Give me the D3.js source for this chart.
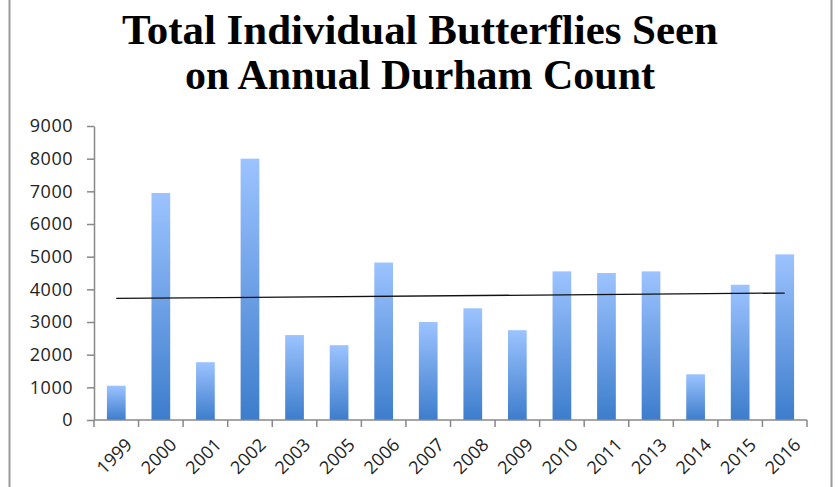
<!DOCTYPE html>
<html>
<head>
<meta charset="utf-8">
<script src="https://cdn.jsdelivr.net/npm/d3@7"></script>
<style>
  html, body { margin: 0; padding: 0; background: #fff; }
  svg { display: block; }
</style>
</head>
<body>
<div id="chart"></div>
<script>
const years = ["1999", "2000", "2001", "2002", "2003", "2005", "2006", "2007",
               "2008", "2009", "2010", "2011", "2013", "2014", "2015", "2016"];
const counts = [1050, 6950, 1770, 8000, 2600, 2290, 4820, 3000,
                3420, 2750, 4550, 4500, 4550, 1400, 4140, 5070];
const yTicks = [0, 1000, 2000, 3000, 4000, 5000, 6000, 7000, 8000, 9000];
const titleLines = ["Total Individual Butterflies Seen", "on Annual Durham Count"];

const width = 838, height = 487;
const margin = { top: 126, right: 31, bottom: 67, left: 94 };

const svg = d3.select("#chart").append("svg")
    .attr("width", width)
    .attr("height", height);

// frame lines left and right
svg.append("line").attr("x1", 9.5).attr("x2", 9.5).attr("y1", 0).attr("y2", height)
    .attr("stroke", "#999").attr("stroke-width", 2);
svg.append("line").attr("x1", 831.5).attr("x2", 831.5).attr("y1", 0).attr("y2", height)
    .attr("stroke", "#999").attr("stroke-width", 2);

// title
svg.append("g").selectAll("text")
    .data(titleLines)
    .join("text")
    .attr("x", 420)
    .attr("y", (d, i) => 44 + i * 45)
    .attr("text-anchor", "middle")
    .attr("textLength", (d, i) => i === 0 ? 596 : 470)
    .attr("lengthAdjust", "spacingAndGlyphs")
    .style("font-family", "'Liberation Serif', serif")
    .style("font-weight", "bold")
    .style("font-size", "42px")
    .style("fill", "#000")
    .text(d => d);

const x = d3.scaleBand()
    .domain(years)
    .range([margin.left, width - margin.right])
    .paddingInner(0.58)
    .paddingOuter(0.29);

const y = d3.scaleLinear()
    .domain([0, 9000])
    .range([height - margin.bottom, margin.top]);

const defs = svg.append("defs");
const grad = defs.append("linearGradient")
    .attr("id", "barGrad")
    .attr("x1", 0).attr("y1", 0).attr("x2", 0).attr("y2", 1);
grad.append("stop").attr("offset", "0%").attr("stop-color", "#9cc3ff");
grad.append("stop").attr("offset", "100%").attr("stop-color", "#3d7dcc");

// bars
svg.append("g").selectAll("rect")
    .data(counts)
    .join("rect")
    .attr("x", (d, i) => x(years[i]))
    .attr("y", d => y(d))
    .attr("width", x.bandwidth())
    .attr("height", d => y(0) - y(d))
    .attr("fill", "url(#barGrad)");

// linear trendline from least squares
const n = counts.length;
const xs = d3.range(n);
const mx = d3.mean(xs), my = d3.mean(counts);
const slope = d3.sum(xs, i => (i - mx) * (counts[i] - my)) / d3.sum(xs, i => (i - mx) ** 2);
const icpt = my - slope * mx;
const cx = i => x(years[i]) + x.bandwidth() / 2;
svg.append("line")
    .attr("x1", cx(0)).attr("y1", y(icpt))
    .attr("x2", cx(n - 1)).attr("y2", y(icpt + slope * (n - 1)))
    .attr("stroke", "#111")
    .attr("stroke-width", 1.3);

// y axis
const yAxis = svg.append("g")
    .attr("transform", `translate(${margin.left},0)`)
    .call(d3.axisLeft(y).tickValues(yTicks).tickFormat(d3.format("d"))
        .tickSize(7).tickPadding(14).tickSizeOuter(0));
yAxis.select(".domain").attr("stroke", "#888").attr("stroke-width", 1.5);
yAxis.selectAll(".tick line").attr("stroke", "#888").attr("stroke-width", 1.5);
yAxis.selectAll(".tick text")
    .style("font-family", "'Open Sans', sans-serif")
    .style("font-size", "18px")
    .style("letter-spacing", "0.5px")
    .style("fill", "#222");

// x axis with ticks at band boundaries
const xAxisG = svg.append("g")
    .attr("transform", `translate(0,${y(0)})`);
xAxisG.append("line")
    .attr("x1", margin.left).attr("x2", width - margin.right)
    .attr("stroke", "#888").attr("stroke-width", 1.5);
const bounds = d3.range(n + 1).map(i => margin.left + i * (width - margin.left - margin.right) / n);
xAxisG.selectAll("line.tk")
    .data(bounds)
    .join("line")
    .attr("class", "tk")
    .attr("x1", d => d).attr("x2", d => d)
    .attr("y1", 0).attr("y2", 7)
    .attr("stroke", "#888").attr("stroke-width", 1.5);
xAxisG.selectAll("text")
    .data(years)
    .join("text")
    .attr("transform", d => `translate(${x(d) + x.bandwidth() / 2 + 8},${17}) rotate(-45)`)
    .attr("text-anchor", "end")
    .attr("dy", "0.71em")
    .style("font-family", "'Open Sans', sans-serif")
    .style("font-size", "18px")
    .style("fill", "#222")
    .text(d => d);
</script>
</body>
</html>
